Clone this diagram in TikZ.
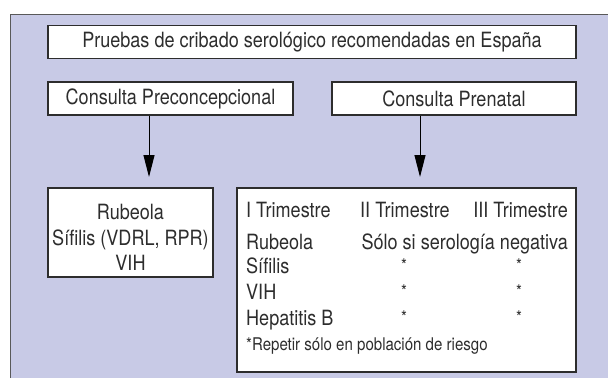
\documentclass[tikz,border=0pt]{standalone}
\usepackage{fontspec}
\setmainfont{TeX Gyre Heros}[FakeStretch=0.86]
\usetikzlibrary{arrows.meta}
\definecolor{bglav}{RGB}{200,202,230}
\definecolor{boxline}{RGB}{45,45,45}
\definecolor{txt}{RGB}{45,45,45}
\tikzset{
  boxn/.style={draw=boxline, line width=1.2pt, fill=white, inner sep=0pt, text=txt, font=\fontsize{21}{23}\selectfont},
  lbl/.style={inner sep=0pt, text=txt, font=\fontsize{21}{23}\selectfont},
  small/.style={inner sep=0pt, text=txt, font=\fontsize{17.5}{19}\selectfont},
  arr/.style={draw=black, line width=1pt, -{Triangle[length=22pt,width=11pt]}}
}
\begin{document}
\begin{tikzpicture}[x=1pt,y=-1pt]
\useasboundingbox (0,0) rectangle (608,378);
% background panel
\fill[bglav] (10,14) rectangle (608,378);
\draw[draw=black!65, line width=1pt] (10,378) -- (10,14) -- (608,14);
% boxes
\node[boxn, minimum width=528pt, minimum height=33pt] (title) at (312,41.8) {Pruebas de cribado serológico recomendadas en España};
\node[boxn, minimum width=245pt, minimum height=33pt] (pre) at (170.5,98.5) {Consulta Preconcepcional};
\node[boxn, minimum width=244pt, minimum height=33pt] (pren) at (454,98.5) {Consulta Prenatal};
\node[boxn, minimum width=165pt, minimum height=89pt] (lbox) at (130.5,232.5) {};
\node[boxn, minimum width=339pt, minimum height=184pt] (rbox) at (406.5,280) {};
% arrows
\coordinate (a1) at (149,177);
\coordinate (a2) at (420,177);
\draw[arr] (pre.south -| a1) -- (a1);
\draw[arr] (pren.south -| a2) -- (a2);
% left box text
\node[lbl, anchor=base] (l1) at (130.5,219) {Rubeola};
\node[lbl, anchor=base] (l2) at (130.5,245) {Sífilis (VDRL, RPR)};
\node[lbl, anchor=base] (l3) at (130.5,270) {VIH};
% right box text
\node[lbl, anchor=base west] (t1) at (246,217) {I Trimestre};
\node[lbl, anchor=base west] (t2) at (360,217) {II Trimestre};
\node[lbl, anchor=base east] (t3) at (568,217) {III Trimestre};
\node[lbl, anchor=base west] (r1) at (246,249) {Rubeola};
\node[lbl, anchor=base east] (r1b) at (568,249) {Sólo si serología negativa};
\node[lbl, anchor=base west] (r2) at (246,273) {Sífilis};
\node[lbl, anchor=base west] (r3) at (246,299) {VIH};
\node[lbl, anchor=base west] (r4) at (246,325) {Hepatitis B};
\node[small, anchor=base] (s21) at (404,271) {*};
\node[small, anchor=base] (s22) at (519,271) {*};
\node[small, anchor=base] (s31) at (404,297) {*};
\node[small, anchor=base] (s32) at (519,297) {*};
\node[small, anchor=base] (s41) at (404,323) {*};
\node[small, anchor=base] (s42) at (519,323) {*};
\node[small, anchor=base west] (foot) at (246,350) {*Repetir sólo en población de riesgo};
\end{tikzpicture}
\end{document}
